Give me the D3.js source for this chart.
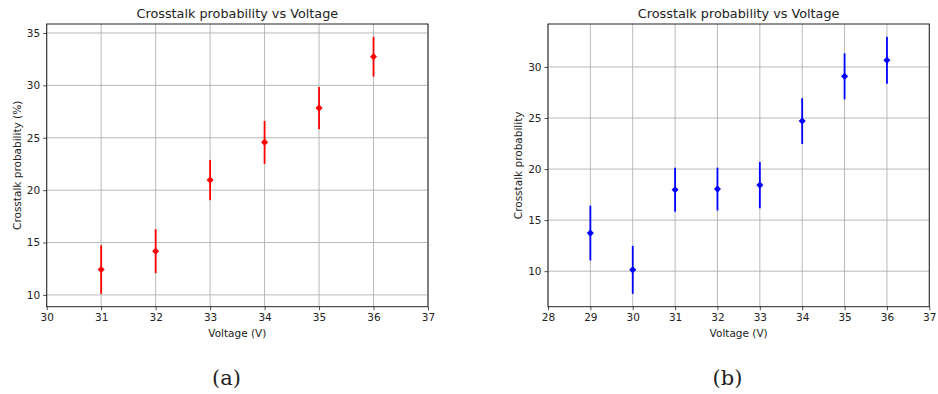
<!DOCTYPE html>
<html>
<head>
<meta charset="utf-8">
<script src="https://cdn.jsdelivr.net/npm/d3@7"></script>
<style>
  html, body { margin: 0; padding: 0; background: #fff; }
  svg { display: block; }
  text { font-family: "DejaVu Sans", sans-serif; fill: #222; }
</style>
</head>
<body>
<svg id="fig" width="938" height="394"></svg>
<script>
// Panel (a): crosstalk probability in percent
const voltageA = [31, 32, 33, 34, 35, 36];
const probA    = [12.42, 14.17, 20.96, 24.56, 27.83, 32.73];
const errA     = [2.32, 2.10, 1.92, 2.05, 2.02, 1.90];
const xTicksA  = [30, 31, 32, 33, 34, 35, 36, 37];
const yTicksA  = [10, 15, 20, 25, 30, 35];

// Panel (b): crosstalk probability
const voltageB = [29, 30, 31, 32, 33, 34, 35, 36];
const probB    = [13.73, 10.13, 17.97, 18.04, 18.43, 24.70, 29.08, 30.65];
const errB     = [2.68, 2.35, 2.15, 2.10, 2.27, 2.24, 2.25, 2.30];
const xTicksB  = [28, 29, 30, 31, 32, 33, 34, 35, 36, 37];
const yTicksB  = [10, 15, 20, 25, 30];

const titleText = "Crosstalk probability vs Voltage";
const xLabelText = "Voltage (V)";

const svg = d3.select("#fig");

function panel(cfg) {
  const { left, right, top, bottom } = cfg.box;
  const lo = d3.min(cfg.y, (d, i) => d - cfg.err[i]);
  const hi = d3.max(cfg.y, (d, i) => d + cfg.err[i]);
  const pad = (hi - lo) * 0.05;

  const x = d3.scaleLinear().domain(cfg.xDomain).range([left, right]);
  const y = d3.scaleLinear().domain([lo - pad, hi + pad]).range([bottom, top]);

  const g = svg.append("g");

  // grid
  g.append("g").selectAll("line").data(cfg.xTicks).join("line")
    .attr("x1", d => x(d)).attr("x2", d => x(d))
    .attr("y1", top).attr("y2", bottom)
    .attr("stroke", "#b0b0b0").attr("stroke-width", 0.9);
  g.append("g").selectAll("line").data(cfg.yTicks).join("line")
    .attr("y1", d => y(d)).attr("y2", d => y(d))
    .attr("x1", left).attr("x2", right)
    .attr("stroke", "#b0b0b0").attr("stroke-width", 0.9);

  // axes
  const xAxis = d3.axisBottom(x).tickValues(cfg.xTicks).tickSize(3.5).tickPadding(3).tickFormat(d3.format("d"));
  const yAxis = d3.axisLeft(y).tickValues(cfg.yTicks).tickSize(3.5).tickPadding(3).tickFormat(d3.format("d"));
  const gx = g.append("g").attr("transform", `translate(0,${bottom})`).call(xAxis);
  const gy = g.append("g").attr("transform", `translate(${left},0)`).call(yAxis);
  [gx, gy].forEach(a => {
    a.select(".domain").remove();
    a.selectAll(".tick line").attr("stroke", "#222").attr("stroke-width", 0.8);
    a.selectAll(".tick text").attr("font-size", 10.5).attr("fill", "#222")
      .attr("font-family", "DejaVu Sans, sans-serif");
  });

  // frame
  g.append("rect")
    .attr("x", left).attr("y", top)
    .attr("width", right - left).attr("height", bottom - top)
    .attr("fill", "none").attr("stroke", "#222").attr("stroke-width", 1);

  // error bars
  g.append("g").selectAll("line").data(cfg.x).join("line")
    .attr("x1", d => x(d)).attr("x2", d => x(d))
    .attr("y1", (d, i) => y(cfg.y[i] - cfg.err[i]))
    .attr("y2", (d, i) => y(cfg.y[i] + cfg.err[i]))
    .attr("stroke", cfg.color).attr("stroke-width", 1.8);

  // diamond markers
  const diamond = d3.symbol().type(d3.symbolSquare).size(25);
  g.append("g").selectAll("path").data(cfg.x).join("path")
    .attr("d", diamond)
    .attr("transform", (d, i) => `translate(${x(d)},${y(cfg.y[i])}) rotate(45)`)
    .attr("fill", cfg.color);

  // titles and labels
  const cx = (left + right) / 2;
  g.append("text").attr("x", cx).attr("y", 18)
    .attr("text-anchor", "middle").attr("font-size", 12.8).text(titleText);
  g.append("text").attr("x", cx).attr("y", 337)
    .attr("text-anchor", "middle").attr("font-size", 10.5).text(xLabelText);
  g.append("text")
    .attr("transform", `translate(${cfg.yLabelX},${(top + bottom) / 2}) rotate(-90)`)
    .attr("text-anchor", "middle").attr("font-size", 10.5).text(cfg.yLabel);

  // panel caption
  svg.append("text")
    .attr("x", cfg.captionX).attr("y", 385)
    .attr("text-anchor", "middle").attr("font-size", 21)
    .style("font-family", "DejaVu Serif, Liberation Serif, serif")
    .text(cfg.caption);
}

panel({
  box: { left: 46.7, right: 428, top: 24, bottom: 306.7 },
  xDomain: [30, 37], xTicks: xTicksA, yTicks: yTicksA,
  x: voltageA, y: probA, err: errA, color: "#ff0000",
  yLabel: "Crosstalk probability (%)", yLabelX: 21,
  caption: "(a)", captionX: 226.5
});

panel({
  box: { left: 548, right: 929.3, top: 24, bottom: 306.7 },
  xDomain: [28, 37], xTicks: xTicksB, yTicks: yTicksB,
  x: voltageB, y: probB, err: errB, color: "#0000ff",
  yLabel: "Crosstalk probability", yLabelX: 521.5,
  caption: "(b)", captionX: 727.5
});
</script>
</body>
</html>
